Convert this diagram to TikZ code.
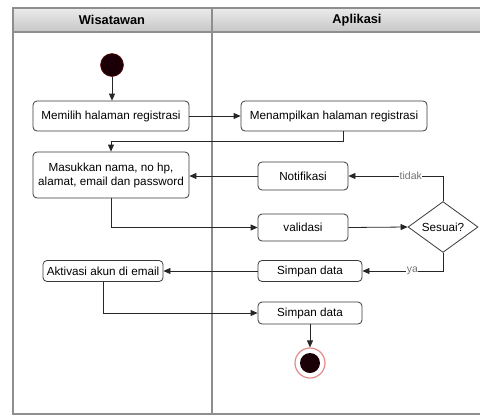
\documentclass[tikz,border=0pt]{standalone}
\usepackage{fontspec}
\setmainfont{Liberation Sans}
\usetikzlibrary{arrows.meta,shapes.geometric}

\definecolor{lanegray}{HTML}{8E8E8E}
\definecolor{headtop}{HTML}{EBEBEB}
\definecolor{headbot}{HTML}{C6C6C6}
\definecolor{boxline}{HTML}{3A3A3A}
\definecolor{dotfill}{HTML}{1A0006}
\definecolor{ringred}{HTML}{E38A8A}

\tikzset{
  lane/.style={draw=lanegray, line width=1.1pt},
  act/.style={draw=boxline, line width=0.8pt, rounded corners=4pt, fill=white,
    inner sep=0pt, align=center, font=\fontsize{11.7}{14}\selectfont},
  decision/.style={diamond, draw=boxline, line width=0.8pt, fill=white, inner sep=0pt,
    minimum width=70pt, minimum height=42pt, font=\fontsize{11.7}{14}\selectfont},
  flow/.style={draw=black!85, line width=0.8pt, -{Triangle[length=7pt,width=6pt]}},
  guard/.style={fill=white, inner sep=0.5pt, text=black!55, font=\fontsize{10.5}{12}\selectfont},
  headtext/.style={font=\bfseries\fontsize{12.8}{14}\selectfont},
}

\begin{document}
\begin{tikzpicture}[x=1pt, y=-1pt]
\useasboundingbox (0,0) rectangle (480,416);
\clip (0,0) rectangle (480,416);

% swimlanes
\shade[top color=headtop, bottom color=headbot] (13,8) rectangle (502,32);
\draw[lane] (13,8) rectangle (502,414);
\draw[lane] (13,32) -- (502,32);
\draw[lane] (212,8) -- (212,414);
\node[headtext] (laneA) at (112,20) {Wisatawan};
\node[headtext] (laneB) at (357,20) {Aplikasi};

% start and end
\node[circle, fill=dotfill, draw=dotfill!70!red, line width=0.5pt,
      minimum size=23pt, inner sep=0pt] (start) at (112,65) {};
\node[circle, draw=ringred, line width=1.2pt, fill=white,
      minimum size=30pt, inner sep=0pt] (final) at (310,363) {};
\node[circle, fill=dotfill, minimum size=20pt, inner sep=0pt] (finaldot) at (310,363) {};

% activities
\node[act, minimum width=156pt, minimum height=30pt] (memilih) at (111,116) {Memilih halaman registrasi};
\node[act, minimum width=186pt, minimum height=30pt] (tampil) at (334,116) {Menampilkan halaman registrasi};
\node[act, minimum width=156pt, minimum height=46pt] (isi) at (111,175) {Masukkan nama, no hp,\\alamat, email dan password};
\node[act, minimum width=90pt, minimum height=28pt] (notif) at (303,176) {Notifikasi};
\node[act, minimum width=90pt, minimum height=27pt] (validasi) at (303,227.5) {validasi};
\node[decision] (sesuai) at (443,227) {Sesuai?};
\node[act, minimum width=104pt, minimum height=21pt] (simpanA) at (310,271) {Simpan data};
\node[act, minimum width=120pt, minimum height=21pt] (aktivasi) at (103,271) {Aktivasi akun di email};
\node[act, minimum width=104pt, minimum height=22pt] (simpanB) at (310,313) {Simpan data};

% control flow
\draw[flow] (start.south) -- (start.south |- memilih.north);
\draw[flow] (memilih.east) -- (tampil.west);
\draw[flow] ([xshift=9pt]tampil.south) -- ++(0,10) -| (isi.north);
\draw[flow] (notif.west) -- (notif.west -| isi.east);
\draw[flow] (isi.south) |- (validasi.west);
\draw[flow] (validasi.east) -- (sesuai.west);
\draw[flow] (sesuai.north) |- (notif.east) node[guard, pos=0.67] (tidak) {tidak};
\draw[flow] (sesuai.south) |- (simpanA.east) node[guard, pos=0.69] (ya) {ya};
\draw[flow] (simpanA.west) -- (aktivasi.east);
\draw[flow] (aktivasi.south) |- (simpanB.west);
\draw[flow] (simpanB.south) -- (final.north);
\end{tikzpicture}
\end{document}
